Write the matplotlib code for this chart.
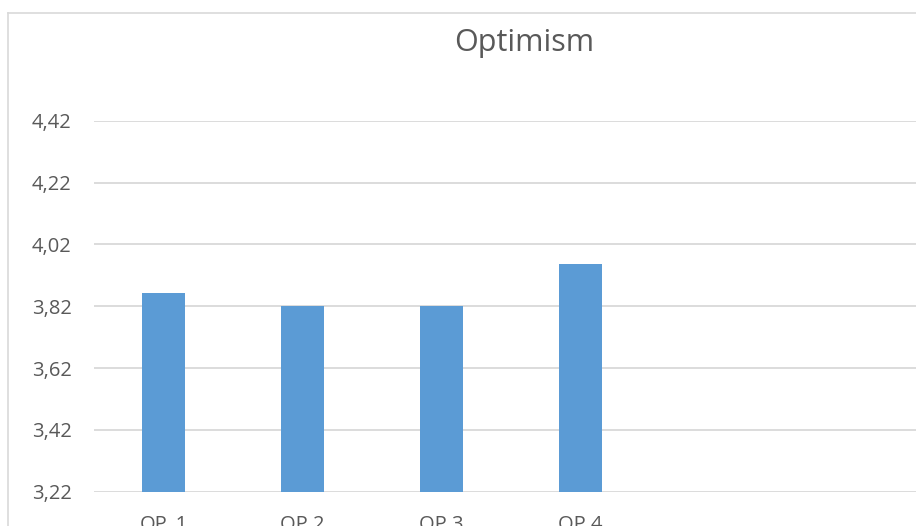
import matplotlib
matplotlib.use("Agg")
import matplotlib.pyplot as plt
from matplotlib.lines import Line2D

# Data
categories = ["OP_1", "OP 2", "OP 3", "OP 4", "", ""]
values = [3.863, 3.822, 3.822, 3.958]
y_ticks = [3.22, 3.42, 3.62, 3.82, 4.02, 4.22, 4.42]
title = "Optimism"

W, H, DPI = 916, 526, 100
text_color = "#595959"
grid_color = "#D9D9D9"
bar_color = "#5B9BD5"

plt.rcParams["font.family"] = ["Open Sans", "DejaVu Sans"]

fig = plt.figure(figsize=(W / DPI, H / DPI), dpi=DPI)
fig.patch.set_facecolor("white")

# Plot area placed in pixel units
left, right = 94, 928
top, bottom = 120.7, 491.7
ax = fig.add_axes([left / W, (H - bottom) / H, (right - left) / W, (bottom - top) / H])

x = list(range(len(categories)))
ax.bar(x[:len(values)], values, width=0.31, color=bar_color, zorder=3)

ax.set_xlim(-0.5, len(categories) - 0.5)
ax.set_ylim(y_ticks[0], y_ticks[-1])
ax.set_yticks(y_ticks)
ax.set_yticklabels([f"{v:.2f}".replace(".", ",") for v in y_ticks])
ax.set_xticks(x)
ax.set_xticklabels(categories)

ax.grid(axis="y", color=grid_color, linewidth=1.3, zorder=0)
ax.set_axisbelow(True)
for s in ax.spines.values():
    s.set_visible(False)
ax.tick_params(axis="both", length=0, colors=text_color, labelsize=14.5)
ax.tick_params(axis="y", pad=16)
ax.tick_params(axis="x", pad=16.5)

# Chart title
fig.text(524 / W, 1 - 43 / H, title, ha="center", va="center",
         fontsize=22, color=text_color)

# Chart area border
fig.add_artist(Line2D([8 / W, 1.0], [1 - 13 / H, 1 - 13 / H], transform=fig.transFigure,
                      color=grid_color, linewidth=1.2))
fig.add_artist(Line2D([8 / W, 8 / W], [0, 1 - 13 / H], transform=fig.transFigure,
                      color=grid_color, linewidth=1.2))

fig.savefig("out.png", dpi=DPI)
